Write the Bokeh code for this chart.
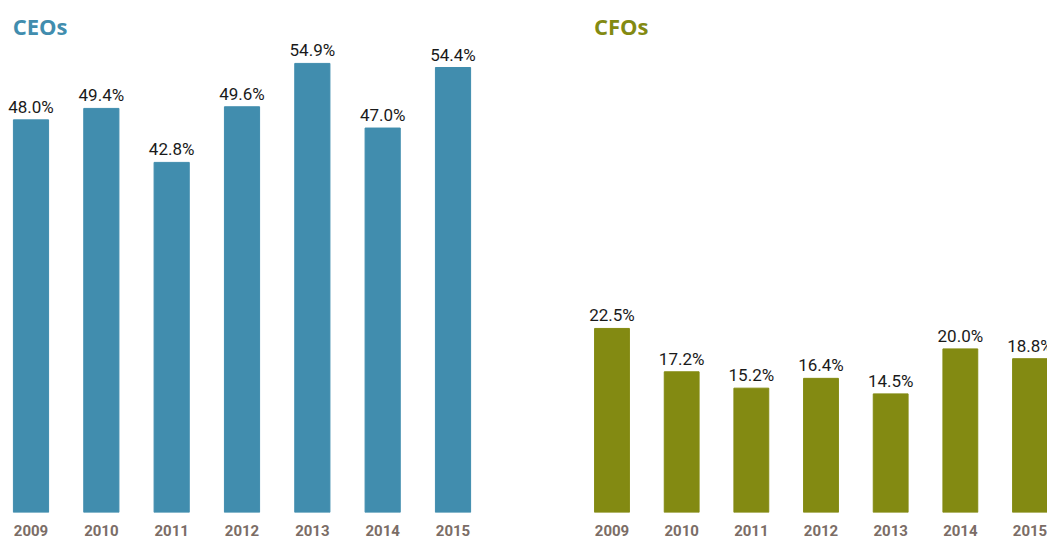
from bokeh.plotting import figure
from bokeh.layouts import row
from bokeh.models import Range1d, Label, ColumnDataSource
from bokeh.core.properties import value
from bokeh.embed import file_html
from bokeh.resources import INLINE

years = ["2009", "2010", "2011", "2012", "2013", "2014", "2015"]
ceo_values = [48.0, 49.4, 42.8, 49.6, 54.9, 47.0, 54.4]
cfo_values = [22.5, 17.2, 15.2, 16.4, 14.5, 20.0, 18.8]

CEO_COLOR = "#418dae"
CFO_COLOR = "#838a12"
YEAR_COLOR = "#7b6d66"
FONT = "Roboto"
Y_END = 512 / 8.18


def panel(title, vals, color, width, x_start, x_end):
    idx = list(range(len(years)))
    src = ColumnDataSource(dict(
        x=idx, top=vals, lab=[f"{v:.1f}%" for v in vals]))
    p = figure(width=width, frame_height=512, output_backend="svg",
               toolbar_location=None, x_range=Range1d(x_start, x_end),
               y_range=Range1d(0, Y_END), y_axis_location=None,
               min_border_left=0, min_border_right=0, min_border_top=0,
               min_border_bottom=0)
    p.vbar(x="x", top="top", bottom=0, width=0.5, color=color, source=src)
    p.text(x="x", y="top", text="lab", source=src, text_align="center",
           text_baseline="alphabetic", y_offset=-13,
           text_font=value(FONT), text_font_size="17px",
           text_color="#1a1a1a")
    p.add_layout(Label(x=-0.26, y=Y_END, y_offset=-25, text=title,
                       text_align="left", text_baseline="alphabetic",
                       text_font="Open Sans", text_font_style="bold",
                       text_font_size="22px", text_color=color))
    ax = p.xaxis[0]
    ax.ticker = idx
    ax.major_label_overrides = {i: y for i, y in enumerate(years)}
    ax.axis_line_color = None
    ax.major_tick_line_color = None
    ax.minor_tick_line_color = None
    ax.major_tick_out = 0
    ax.major_tick_in = 0
    ax.major_label_standoff = 12
    ax.major_label_text_font = FONT
    ax.major_label_text_font_style = "bold"
    ax.major_label_text_font_size = "15px"
    ax.major_label_text_color = YEAR_COLOR
    p.xgrid.visible = False
    p.ygrid.visible = False
    p.outline_line_color = None
    return p


left = panel("CEOs", ceo_values, CEO_COLOR, 568, -0.4337, 7.642)
right = panel("CFOs", cfo_values, CFO_COLOR, 479, -0.6244, 6.251)
layout = row(left, right, spacing=0)
open("out.html", "w").write(file_html(layout, INLINE))
